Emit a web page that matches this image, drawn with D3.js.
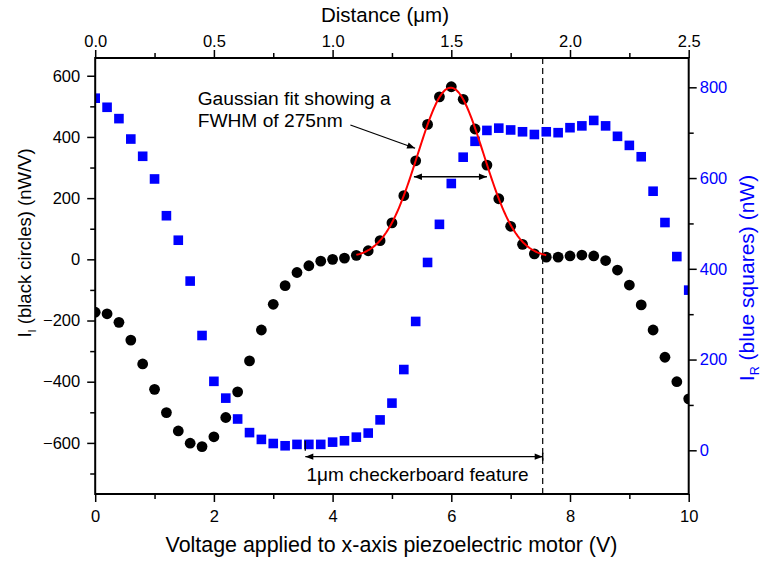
<!DOCTYPE html>
<html>
<head>
<meta charset="utf-8">
<script src="https://cdn.jsdelivr.net/npm/d3@7"></script>
<style>
  html, body { margin: 0; padding: 0; background: #fff; }
  svg text { font-family: "Liberation Sans", Arial, Helvetica, sans-serif; }
</style>
</head>
<body>
<svg id="chart" width="764" height="563"></svg>
<script>
// Piezo scan voltage (V) for every sample
const voltage = [0, 0.2, 0.4, 0.6, 0.8, 1.0, 1.2, 1.4, 1.6, 1.8,
  2.0, 2.2, 2.4, 2.6, 2.8, 3.0, 3.2, 3.4, 3.6, 3.8,
  4.0, 4.2, 4.4, 4.6, 4.8, 5.0, 5.2, 5.4, 5.6, 5.8,
  6.0, 6.2, 6.4, 6.6, 6.8, 7.0, 7.2, 7.4, 7.6, 7.8,
  8.0, 8.2, 8.4, 8.6, 8.8, 9.0, 9.2, 9.4, 9.6, 9.8, 10.0];

// I_I, black circles (nW/V), left axis
const blackCircles = [-173, -178, -206, -264, -342, -425, -501, -561, -601, -612,
  -580, -517, -433, -332, -231, -147, -86, -43, -21, -6,
  0, 4, 13, 28, 61, 119, 208, 322, 441, 531,
  564, 523, 426, 308, 198, 108, 49, 18, 7, 7,
  11, 14, 11, -4, -35, -84, -149, -231, -320, -400, -456];

// I_R, blue squares (nW), right axis
const blueSquares = [776, 756, 731, 686, 648, 598, 517, 463, 373, 253,
  152, 115, 69, 39, 24, 15, 10, 13, 13, 13,
  18, 21, 29, 38, 67, 104, 178, 284, 414, 498,
  588, 646, 681, 705, 710, 706, 702, 696, 702, 700,
  711, 715, 727, 715, 692, 672, 647, 571, 502, 427, 353];

// Gaussian fit to the circle peak: offset, amplitude, centre (V), sigma (V), fitted span (V)
const fitOffset = 5;
const fitAmplitude = 556;
const fitCentre = 5.99;
const fitSigma = 0.557;
const fitSpan = [4.4, 7.6];
const fitSamples = 160;

// Tick values
const bottomMajor = [0, 2, 4, 6, 8, 10];
const bottomMinor = [1, 3, 5, 7, 9];
const topMajor = [0.0, 0.5, 1.0, 1.5, 2.0, 2.5];
const topMinor = [0.25, 0.75, 1.25, 1.75, 2.25];
const leftMajor = [-600, -400, -200, 0, 200, 400, 600];
const leftMinor = [-700, -500, -300, -100, 100, 300, 500];
const rightMajor = [0, 200, 400, 600, 800];
const rightMinor = [100, 300, 500, 700];

// Annotation anchors (data units)
const fwhmArrow = { y: 270, x0: 5.37, x1: 6.6 };
const featureEdge = 7.54;          // dashed marker, V
const featureArrow = { y: -645, x0: 3.54, x1: 7.54 };

const svg = d3.select("#chart");
const L = 95.2, R = 688.7, T = 58, B = 494;

const x = d3.scaleLinear().domain([0, 10]).range([L, R]);
const xTop = d3.scaleLinear().domain([0, 2.5]).range([L, R]);
const yL = d3.scaleLinear().domain([-767, 658]).range([B, T]);
const yR = d3.scaleLinear().domain([-96.3, 864.6]).range([B, T]);

const blue = "#0000ff";

svg.append("defs").append("clipPath").attr("id", "plot")
  .append("rect").attr("x", L).attr("y", T).attr("width", R - L).attr("height", B - T);

svg.append("defs").append("marker")
  .attr("id", "head").attr("viewBox", "0 0 10 10").attr("refX", 10).attr("refY", 5)
  .attr("markerWidth", 10).attr("markerHeight", 8).attr("markerUnits", "userSpaceOnUse")
  .attr("orient", "auto-start-reverse")
  .append("path").attr("d", "M0,1 L10,5 L0,9 Z").attr("fill", "#000");

// Dashed marker at the end of the checkerboard feature
svg.append("line")
  .attr("x1", x(featureEdge)).attr("x2", x(featureEdge))
  .attr("y1", T).attr("y2", B)
  .attr("stroke", "#000").attr("stroke-width", 1.2).attr("stroke-dasharray", "6,4");

const plot = svg.append("g").attr("clip-path", "url(#plot)");

// Blue squares
const sq = 9.6;
plot.append("g").selectAll("rect").data(voltage.map((v, i) => [v, blueSquares[i]]))
  .join("rect")
  .attr("x", d => x(d[0]) - sq / 2).attr("y", d => yR(d[1]) - sq / 2)
  .attr("width", sq).attr("height", sq).attr("fill", blue);

// Black circles
plot.append("g").selectAll("circle").data(voltage.map((v, i) => [v, blackCircles[i]]))
  .join("circle")
  .attr("cx", d => x(d[0])).attr("cy", d => yL(d[1])).attr("r", 5.4).attr("fill", "#000");

// Gaussian fit curve
const fitPts = d3.range(fitSamples + 1).map(k => {
  const v = fitSpan[0] + (fitSpan[1] - fitSpan[0]) * k / fitSamples;
  return [v, fitOffset + fitAmplitude * Math.exp(-((v - fitCentre) ** 2) / (2 * fitSigma * fitSigma))];
});
plot.append("path").datum(fitPts)
  .attr("d", d3.line().x(d => x(d[0])).y(d => yL(d[1])).curve(d3.curveLinear))
  .attr("fill", "none").attr("stroke", "#ff0000").attr("stroke-width", 2);

// Axes
const tickFont = 16.5;
function styleAxis(g, color) {
  g.select(".domain").remove();
  g.selectAll("line").attr("stroke", "#000").attr("stroke-width", 1.5);
  g.selectAll("text").attr("font-size", tickFont).attr("fill", color || "#000")
    .style("font-family", '"Liberation Sans", Arial, sans-serif');
}

svg.append("g").attr("transform", `translate(0,${B})`)
  .call(d3.axisBottom(x).tickValues(bottomMajor).tickSize(8).tickPadding(8).tickFormat(d3.format("d")))
  .call(g => styleAxis(g));
svg.append("g").attr("transform", `translate(0,${B})`)
  .call(d3.axisBottom(x).tickValues(bottomMinor).tickSize(5).tickFormat(""))
  .call(g => styleAxis(g));

svg.append("g").attr("transform", `translate(0,${T})`)
  .call(d3.axisTop(xTop).tickValues(topMajor).tickSize(8).tickPadding(3).tickFormat(d3.format(".1f")))
  .call(g => styleAxis(g));
svg.append("g").attr("transform", `translate(0,${T})`)
  .call(d3.axisTop(xTop).tickValues(topMinor).tickSize(5).tickFormat(""))
  .call(g => styleAxis(g));

svg.append("g").attr("transform", `translate(${L},0)`)
  .call(d3.axisLeft(yL).tickValues(leftMajor).tickSize(8).tickPadding(7).tickFormat(d3.format("d")))
  .call(g => styleAxis(g));
svg.append("g").attr("transform", `translate(${L},0)`)
  .call(d3.axisLeft(yL).tickValues(leftMinor).tickSize(5).tickFormat(""))
  .call(g => styleAxis(g));

svg.append("g").attr("transform", `translate(${R},0)`)
  .call(d3.axisRight(yR).tickValues(rightMajor).tickSize(8).tickPadding(3).tickFormat(d3.format("d")))
  .call(g => styleAxis(g, blue));
svg.append("g").attr("transform", `translate(${R},0)`)
  .call(d3.axisRight(yR).tickValues(rightMinor).tickSize(5).tickFormat(""))
  .call(g => styleAxis(g));

// Frame
svg.append("rect").attr("x", L).attr("y", T).attr("width", R - L).attr("height", B - T)
  .attr("fill", "none").attr("stroke", "#000").attr("stroke-width", 2);

// Axis titles
svg.append("text").attr("x", 391.5).attr("y", 552).attr("text-anchor", "middle")
  .attr("font-size", 21.4).text("Voltage applied to x-axis piezoelectric motor (V)");

svg.append("text").attr("x", 385).attr("y", 22).attr("text-anchor", "middle")
  .attr("font-size", 20.5).text("Distance (\u03bcm)");

const leftTitle = svg.append("text").attr("transform", "translate(31,243) rotate(-90)")
  .attr("text-anchor", "middle").attr("font-size", 18.5);
leftTitle.append("tspan").text("I");
leftTitle.append("tspan").attr("font-size", 11).attr("dy", 5).text("I");
leftTitle.append("tspan").attr("dy", -5).text(" (black circles) (nW/V)");

const rightTitle = svg.append("text").attr("transform", "translate(754,278) rotate(-90)")
  .attr("text-anchor", "middle").attr("font-size", 21).attr("fill", blue);
rightTitle.append("tspan").text("I");
rightTitle.append("tspan").attr("font-size", 12.5).attr("dy", 5).text("R");
rightTitle.append("tspan").attr("dy", -5).text(" (blue squares) (nW)");

// Gaussian fit annotation
const note = svg.append("text").attr("font-size", 19.2);
note.append("tspan").attr("x", x(1.727)).attr("y", yL(504)).text("Gaussian fit showing a");
note.append("tspan").attr("x", x(1.727)).attr("y", yL(433)).text("FWHM of 275nm");

svg.append("line")
  .attr("x1", x(4.3)).attr("y1", yL(439)).attr("x2", x(5.39)).attr("y2", yL(363))
  .attr("stroke", "#000").attr("stroke-width", 1.3).attr("marker-end", "url(#head)");

// FWHM width arrow
svg.append("line")
  .attr("x1", x(fwhmArrow.x0)).attr("x2", x(fwhmArrow.x1))
  .attr("y1", yL(fwhmArrow.y)).attr("y2", yL(fwhmArrow.y))
  .attr("stroke", "#000").attr("stroke-width", 1.5)
  .attr("marker-start", "url(#head)").attr("marker-end", "url(#head)");

// Checkerboard feature arrow
svg.append("line")
  .attr("x1", x(featureArrow.x0)).attr("x2", x(featureArrow.x1))
  .attr("y1", yL(featureArrow.y)).attr("y2", yL(featureArrow.y))
  .attr("stroke", "#000").attr("stroke-width", 1.3)
  .attr("marker-start", "url(#head)").attr("marker-end", "url(#head)");
svg.append("line")
  .attr("x1", x(featureArrow.x0)).attr("x2", x(featureArrow.x0))
  .attr("y1", yL(featureArrow.y) - 16).attr("y2", yL(featureArrow.y) - 6)
  .attr("stroke", "#000").attr("stroke-width", 1.3);
svg.append("line")
  .attr("x1", x(featureArrow.x1)).attr("x2", x(featureArrow.x1))
  .attr("y1", yL(featureArrow.y) - 4).attr("y2", yL(featureArrow.y) + 4)
  .attr("stroke", "#000").attr("stroke-width", 1.5);

svg.append("text").attr("x", x(3.56)).attr("y", yL(-726)).attr("font-size", 19)
  .text("1\u03bcm checkerboard feature");
</script>
</body>
</html>
